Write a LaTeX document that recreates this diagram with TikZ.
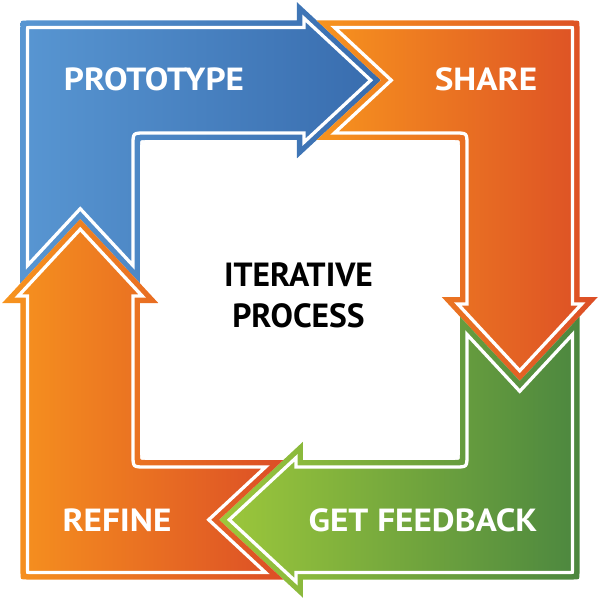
\documentclass[tikz,border=0pt]{standalone}
\usepackage{fontspec}
\setmainfont{PT Sans}
\newfontfamily\lblfont[FakeStretch=1.1]{PT Sans}
\newfontfamily\ctrfont{PT Sans}
\definecolor{blueL}{RGB}{88,150,210}
\definecolor{blueD}{RGB}{56,108,174}
\definecolor{orgL}{RGB}{247,148,30}
\definecolor{orgD}{RGB}{220,78,38}
\definecolor{grnL}{RGB}{157,200,59}
\definecolor{grnD}{RGB}{76,135,63}
% outer boundary of one bent arrow (PROTOTYPE orientation), rotated by #1
\newcommand\arrowOuter[1]{([rotate=#1]-273.5,279.5) -- ([rotate=#1]-3,279.5) -- ([rotate=#1]-3,297.75) -- ([rotate=#1]81,219.75) -- ([rotate=#1]-3,141.75) -- ([rotate=#1]-3,160) -- ([rotate=#1]-155,160) .. controls ([rotate=#1]-160,160) .. ([rotate=#1]-160,155) -- ([rotate=#1]-160,16.65) -- ([rotate=#1]-219.75,81) -- ([rotate=#1]-279.5,16.65) -- ([rotate=#1]-279.5,273.5) .. controls ([rotate=#1]-279.5,279.5) .. ([rotate=#1]-273.5,279.5) -- cycle}
% inset white line
\newcommand\arrowInner[1]{([rotate=#1]-270.5,272.5) -- ([rotate=#1]4,272.5) -- ([rotate=#1]4,281.70) -- ([rotate=#1]70.72,219.75) -- ([rotate=#1]4,157.80) -- ([rotate=#1]4,167) -- ([rotate=#1]-155,167) .. controls ([rotate=#1]-167,167) .. ([rotate=#1]-167,155) -- ([rotate=#1]-167,34.48) -- ([rotate=#1]-219.75,91.28) -- ([rotate=#1]-272.5,34.48) -- ([rotate=#1]-272.5,270.5) .. controls ([rotate=#1]-272.5,272.5) .. ([rotate=#1]-270.5,272.5) -- cycle}
\begin{document}
\begin{tikzpicture}[x=1pt,y=1pt,
  lbl/.style={text=white,font=\lblfont\bfseries\fontsize{32}{32}\selectfont,inner sep=0pt},
  ctr/.style={text=black,font=\ctrfont\bfseries\fontsize{33.5}{41}\selectfont,align=center,inner sep=0pt},
  rimline/.style={draw=white,line width=3.3pt,line join=miter}]
\useasboundingbox (-300,-300) rectangle (299,300);
% PROTOTYPE (blue)
\shade[left color=blueL,right color=blueD] \arrowOuter{0};
\path[rimline] \arrowInner{0};
% SHARE (orange)
\shade[left color=orgL,right color=orgD] \arrowOuter{-90};
\path[rimline] \arrowInner{-90};
% GET FEEDBACK (green)
\shade[left color=grnL,right color=grnD] \arrowOuter{-180};
\path[rimline] \arrowInner{-180};
% REFINE (orange)
\shade[left color=orgL,right color=orgD] \arrowOuter{-270};
\path[rimline] \arrowInner{-270};
% labels
\node[lbl] (proto) at (-146,221) {PROTOTYPE};
\node[lbl] (share) at (186,221) {SHARE};
\node[lbl] (refine) at (-183,-220) {REFINE};
\node[lbl] (feedback) at (123,-220) {GET FEEDBACK};
\node[ctr] (center) at (-1.5,4.5) {ITERATIVE\\PROCESS};
\end{tikzpicture}
\end{document}
